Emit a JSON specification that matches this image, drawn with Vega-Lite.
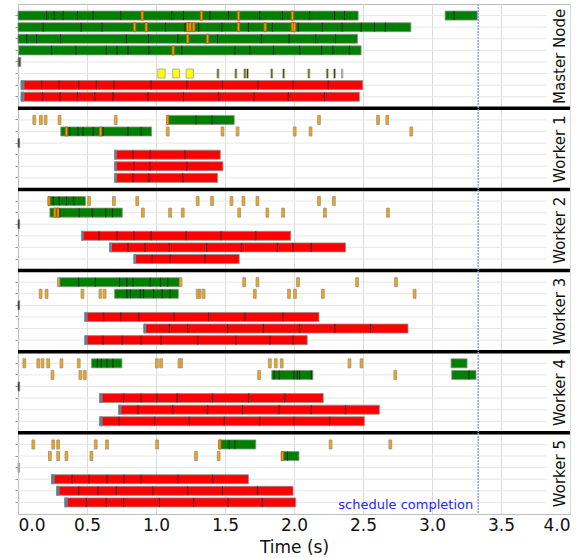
{
  "$schema": "https://vega.github.io/schema/vega-lite/v6.json",
  "width": 552,
  "height": 510,
  "autosize": {"type": "none"},
  "padding": {"left": 18, "top": 4, "right": 9, "bottom": 44},
  "config": {"font": "DejaVu Sans", "view": {"stroke": "#bdbdbd", "strokeWidth": 1}},
  "datasets": {
    "lanes": [
      {"lane":1},{"lane":2},{"lane":3},{"lane":4},{"lane":5},{"lane":6},{"lane":7},{"lane":8},
      {"lane":10},{"lane":11},{"lane":12},{"lane":13},{"lane":14},{"lane":15},
      {"lane":17},{"lane":18},{"lane":19},{"lane":20},{"lane":21},{"lane":22},
      {"lane":24},{"lane":25},{"lane":26},{"lane":27},{"lane":28},{"lane":29},
      {"lane":31},{"lane":32},{"lane":33},{"lane":34},{"lane":35},{"lane":36},
      {"lane":38},{"lane":39},{"lane":40},{"lane":41},{"lane":42},{"lane":43}
    ],
    "seps": [{"lane":9},{"lane":16},{"lane":23},{"lane":30},{"lane":37}],
    "groups": [
      {"group":"Master Node","lane":4},
      {"group":"Worker 1","lane":12},
      {"group":"Worker 2","lane":19},
      {"group":"Worker 3","lane":26},
      {"group":"Worker 4","lane":33},
      {"group":"Worker 5","lane":40}
    ],
    "bars": [
      {"lane":1,"start":0,"end":2.465,"kind":"map"},
      {"lane":1,"start":3.095,"end":3.328,"kind":"map"},
      {"lane":1,"start":0.892,"end":0.908,"kind":"io_in"},
      {"lane":1,"start":1.321,"end":1.337,"kind":"io_in"},
      {"lane":1,"start":1.590,"end":1.606,"kind":"io_in"},
      {"lane":1,"start":1.980,"end":1.996,"kind":"io_in"},
      {"lane":2,"start":0,"end":2.847,"kind":"map"},
      {"lane":2,"start":0.837,"end":0.853,"kind":"io_in"},
      {"lane":2,"start":0.921,"end":0.937,"kind":"io_in"},
      {"lane":2,"start":1.222,"end":1.238,"kind":"io_in"},
      {"lane":2,"start":1.239,"end":1.255,"kind":"io_in"},
      {"lane":2,"start":1.265,"end":1.281,"kind":"io_in"},
      {"lane":2,"start":1.590,"end":1.606,"kind":"io_in"},
      {"lane":2,"start":1.783,"end":1.799,"kind":"io_in"},
      {"lane":2,"start":1.980,"end":1.996,"kind":"io_in"},
      {"lane":2,"start":1.996,"end":2.012,"kind":"io_in"},
      {"lane":3,"start":0,"end":2.460,"kind":"map"},
      {"lane":3,"start":1.222,"end":1.238,"kind":"io_in"},
      {"lane":3,"start":1.366,"end":1.382,"kind":"io_in"},
      {"lane":4,"start":0.005,"end":2.486,"kind":"map"},
      {"lane":4,"start":1.116,"end":1.132,"kind":"io_in"},
      {"lane":5,"start":0,"end":0.02,"kind":"misc"},
      {"lane":6,"start":1.013,"end":1.066,"kind":"sched"},
      {"lane":6,"start":1.121,"end":1.170,"kind":"sched"},
      {"lane":6,"start":1.218,"end":1.271,"kind":"sched"},
      {"lane":6,"start":1.442,"end":1.456,"kind":"sched"},
      {"lane":6,"start":1.572,"end":1.586,"kind":"sched"},
      {"lane":6,"start":1.637,"end":1.651,"kind":"sched"},
      {"lane":6,"start":1.656,"end":1.670,"kind":"sched"},
      {"lane":6,"start":1.832,"end":1.846,"kind":"sched"},
      {"lane":6,"start":1.918,"end":1.932,"kind":"sched"},
      {"lane":6,"start":2.101,"end":2.115,"kind":"sched"},
      {"lane":6,"start":2.234,"end":2.248,"kind":"sched"},
      {"lane":6,"start":2.287,"end":2.301,"kind":"sched"},
      {"lane":6,"start":2.344,"end":2.354,"kind":"light"},
      {"lane":7,"start":0.022,"end":2.498,"kind":"reduce"},
      {"lane":7,"start":0.022,"end":0.043,"kind":"setup"},
      {"lane":8,"start":0.022,"end":2.474,"kind":"reduce"},
      {"lane":8,"start":0.022,"end":0.043,"kind":"setup"},

      {"lane":10,"start":0.108,"end":0.128,"kind":"io"},
      {"lane":10,"start":0.156,"end":0.176,"kind":"io"},
      {"lane":10,"start":0.190,"end":0.210,"kind":"io"},
      {"lane":10,"start":0.291,"end":0.311,"kind":"io"},
      {"lane":10,"start":0.698,"end":0.718,"kind":"io"},
      {"lane":10,"start":1.081,"end":1.567,"kind":"map"},
      {"lane":10,"start":1.077,"end":1.093,"kind":"io_in"},
      {"lane":10,"start":2.171,"end":2.191,"kind":"io"},
      {"lane":10,"start":2.599,"end":2.619,"kind":"io"},
      {"lane":10,"start":2.666,"end":2.686,"kind":"io"},
      {"lane":11,"start":0.310,"end":0.968,"kind":"map"},
      {"lane":11,"start":0.343,"end":0.359,"kind":"io_in"},
      {"lane":11,"start":0.591,"end":0.607,"kind":"io_in"},
      {"lane":11,"start":1.075,"end":1.095,"kind":"io"},
      {"lane":11,"start":1.472,"end":1.492,"kind":"io"},
      {"lane":11,"start":1.581,"end":1.601,"kind":"io"},
      {"lane":11,"start":1.995,"end":2.015,"kind":"io"},
      {"lane":11,"start":2.110,"end":2.130,"kind":"io"},
      {"lane":11,"start":2.840,"end":2.860,"kind":"io"},
      {"lane":12,"start":0,"end":0.012,"kind":"idle"},
      {"lane":13,"start":0.700,"end":1.466,"kind":"reduce"},
      {"lane":13,"start":0.700,"end":0.712,"kind":"setup"},
      {"lane":14,"start":0.700,"end":1.485,"kind":"reduce"},
      {"lane":14,"start":0.700,"end":0.712,"kind":"setup"},
      {"lane":15,"start":0.700,"end":1.446,"kind":"reduce"},
      {"lane":15,"start":0.700,"end":0.712,"kind":"setup"},

      {"lane":17,"start":0.219,"end":0.489,"kind":"map"},
      {"lane":17,"start":0.217,"end":0.233,"kind":"io_in"},
      {"lane":17,"start":0.505,"end":0.525,"kind":"io"},
      {"lane":17,"start":0.685,"end":0.705,"kind":"io"},
      {"lane":17,"start":0.854,"end":0.874,"kind":"io"},
      {"lane":17,"start":1.292,"end":1.312,"kind":"io"},
      {"lane":17,"start":1.396,"end":1.416,"kind":"io"},
      {"lane":17,"start":1.537,"end":1.557,"kind":"io"},
      {"lane":17,"start":1.624,"end":1.644,"kind":"io"},
      {"lane":17,"start":1.725,"end":1.745,"kind":"io"},
      {"lane":17,"start":2.171,"end":2.191,"kind":"io"},
      {"lane":17,"start":2.279,"end":2.299,"kind":"io"},
      {"lane":18,"start":0.231,"end":0.756,"kind":"map"},
      {"lane":18,"start":0.259,"end":0.275,"kind":"io_in"},
      {"lane":18,"start":0.283,"end":0.299,"kind":"io_in"},
      {"lane":18,"start":0.895,"end":0.915,"kind":"io"},
      {"lane":18,"start":1.092,"end":1.112,"kind":"io"},
      {"lane":18,"start":1.184,"end":1.204,"kind":"io"},
      {"lane":18,"start":1.593,"end":1.613,"kind":"io"},
      {"lane":18,"start":1.797,"end":1.817,"kind":"io"},
      {"lane":18,"start":1.911,"end":1.931,"kind":"io"},
      {"lane":18,"start":2.214,"end":2.234,"kind":"io"},
      {"lane":18,"start":2.671,"end":2.691,"kind":"io"},
      {"lane":19,"start":0,"end":0.012,"kind":"idle"},
      {"lane":20,"start":0.460,"end":1.976,"kind":"reduce"},
      {"lane":20,"start":0.460,"end":0.472,"kind":"setup"},
      {"lane":21,"start":0.664,"end":2.373,"kind":"reduce"},
      {"lane":21,"start":0.664,"end":0.678,"kind":"setup"},
      {"lane":22,"start":0.840,"end":1.603,"kind":"reduce"},
      {"lane":22,"start":0.840,"end":0.852,"kind":"setup"},

      {"lane":24,"start":0.286,"end":0.303,"kind":"io"},
      {"lane":24,"start":0.303,"end":1.170,"kind":"map"},
      {"lane":24,"start":1.170,"end":1.188,"kind":"io"},
      {"lane":24,"start":1.629,"end":1.649,"kind":"io"},
      {"lane":24,"start":1.725,"end":1.745,"kind":"io"},
      {"lane":24,"start":2.019,"end":2.039,"kind":"io"},
      {"lane":24,"start":2.447,"end":2.467,"kind":"io"},
      {"lane":24,"start":2.729,"end":2.749,"kind":"io"},
      {"lane":25,"start":0.154,"end":0.174,"kind":"io"},
      {"lane":25,"start":0.197,"end":0.217,"kind":"io"},
      {"lane":25,"start":0.457,"end":0.477,"kind":"io"},
      {"lane":25,"start":0.587,"end":0.607,"kind":"io"},
      {"lane":25,"start":0.618,"end":0.638,"kind":"io"},
      {"lane":25,"start":0.700,"end":1.162,"kind":"map"},
      {"lane":25,"start":1.292,"end":1.312,"kind":"io"},
      {"lane":25,"start":1.312,"end":1.326,"kind":"io"},
      {"lane":25,"start":1.335,"end":1.355,"kind":"io"},
      {"lane":25,"start":1.706,"end":1.726,"kind":"io"},
      {"lane":25,"start":1.954,"end":1.974,"kind":"io"},
      {"lane":25,"start":1.997,"end":2.017,"kind":"io"},
      {"lane":25,"start":2.199,"end":2.219,"kind":"io"},
      {"lane":25,"start":2.864,"end":2.884,"kind":"io"},
      {"lane":26,"start":0,"end":0.012,"kind":"idle"},
      {"lane":27,"start":0.484,"end":2.181,"kind":"reduce"},
      {"lane":27,"start":0.484,"end":0.500,"kind":"setup"},
      {"lane":28,"start":0.912,"end":2.826,"kind":"reduce"},
      {"lane":28,"start":0.912,"end":0.926,"kind":"setup"},
      {"lane":29,"start":0.484,"end":2.096,"kind":"reduce"},
      {"lane":29,"start":0.484,"end":0.500,"kind":"setup"},

      {"lane":31,"start":0.036,"end":0.056,"kind":"io"},
      {"lane":31,"start":0.137,"end":0.157,"kind":"io"},
      {"lane":31,"start":0.168,"end":0.188,"kind":"io"},
      {"lane":31,"start":0.209,"end":0.229,"kind":"io"},
      {"lane":31,"start":0.305,"end":0.325,"kind":"io"},
      {"lane":31,"start":0.430,"end":0.450,"kind":"io"},
      {"lane":31,"start":0.532,"end":0.753,"kind":"map"},
      {"lane":31,"start":0.996,"end":1.016,"kind":"io"},
      {"lane":31,"start":1.027,"end":1.047,"kind":"io"},
      {"lane":31,"start":1.160,"end":1.180,"kind":"io"},
      {"lane":31,"start":1.176,"end":1.192,"kind":"io"},
      {"lane":31,"start":1.815,"end":1.835,"kind":"io"},
      {"lane":31,"start":1.858,"end":1.878,"kind":"io"},
      {"lane":31,"start":1.901,"end":1.921,"kind":"io"},
      {"lane":31,"start":2.392,"end":2.412,"kind":"io"},
      {"lane":31,"start":2.479,"end":2.499,"kind":"io"},
      {"lane":31,"start":3.138,"end":3.254,"kind":"map"},
      {"lane":32,"start":0.240,"end":0.260,"kind":"io"},
      {"lane":32,"start":0.442,"end":0.462,"kind":"io"},
      {"lane":32,"start":0.474,"end":0.494,"kind":"io"},
      {"lane":32,"start":1.737,"end":1.757,"kind":"io"},
      {"lane":32,"start":1.839,"end":2.137,"kind":"map"},
      {"lane":32,"start":2.724,"end":2.744,"kind":"io"},
      {"lane":32,"start":3.143,"end":3.319,"kind":"map"},
      {"lane":33,"start":0,"end":0.012,"kind":"idle"},
      {"lane":34,"start":0.592,"end":2.212,"kind":"reduce"},
      {"lane":34,"start":0.592,"end":0.609,"kind":"setup"},
      {"lane":35,"start":0.729,"end":2.619,"kind":"reduce"},
      {"lane":35,"start":0.729,"end":0.746,"kind":"setup"},
      {"lane":36,"start":0.592,"end":2.510,"kind":"reduce"},
      {"lane":36,"start":0.592,"end":0.609,"kind":"setup"},

      {"lane":38,"start":0.101,"end":0.121,"kind":"io"},
      {"lane":38,"start":0.245,"end":0.265,"kind":"io"},
      {"lane":38,"start":0.281,"end":0.301,"kind":"io"},
      {"lane":38,"start":0.553,"end":0.573,"kind":"io"},
      {"lane":38,"start":0.635,"end":0.655,"kind":"io"},
      {"lane":38,"start":0.998,"end":1.018,"kind":"io"},
      {"lane":38,"start":1.455,"end":1.723,"kind":"map"},
      {"lane":38,"start":1.455,"end":1.471,"kind":"io_in"},
      {"lane":38,"start":2.255,"end":2.275,"kind":"io"},
      {"lane":38,"start":2.688,"end":2.708,"kind":"io"},
      {"lane":39,"start":0.221,"end":0.241,"kind":"io"},
      {"lane":39,"start":0.281,"end":0.301,"kind":"io"},
      {"lane":39,"start":0.341,"end":0.361,"kind":"io"},
      {"lane":39,"start":0.522,"end":0.542,"kind":"io"},
      {"lane":39,"start":1.280,"end":1.300,"kind":"io"},
      {"lane":39,"start":1.444,"end":1.464,"kind":"io"},
      {"lane":39,"start":1.908,"end":2.036,"kind":"map"},
      {"lane":39,"start":1.908,"end":1.924,"kind":"io_in"},
      {"lane":40,"start":0,"end":0.012,"kind":"light"},
      {"lane":41,"start":0.243,"end":1.670,"kind":"reduce"},
      {"lane":41,"start":0.243,"end":0.262,"kind":"setup"},
      {"lane":42,"start":0.279,"end":1.993,"kind":"reduce"},
      {"lane":42,"start":0.279,"end":0.297,"kind":"setup"},
      {"lane":43,"start":0.339,"end":2.012,"kind":"reduce"},
      {"lane":43,"start":0.339,"end":0.357,"kind":"setup"}
    ],
    "divs": [
      {"lane":1,"t":0.207},{"lane":1,"t":0.262},{"lane":1,"t":0.327},{"lane":1,"t":0.431},{"lane":1,"t":0.544},{"lane":1,"t":0.744},{"lane":1,"t":1.114},{"lane":1,"t":1.199},{"lane":1,"t":1.391},{"lane":1,"t":1.526},{"lane":1,"t":1.752},{"lane":1,"t":1.916},{"lane":1,"t":2.113},{"lane":1,"t":2.294},{"lane":1,"t":2.366},{"lane":1,"t":3.16},
      {"lane":2,"t":0.183},{"lane":2,"t":0.457},{"lane":2,"t":0.609},{"lane":2,"t":1.069},{"lane":2,"t":1.211},{"lane":2,"t":1.309},{"lane":2,"t":1.478},{"lane":2,"t":1.670},{"lane":2,"t":1.843},{"lane":2,"t":2.031},{"lane":2,"t":2.205},{"lane":2,"t":2.349},{"lane":2,"t":2.486},{"lane":2,"t":2.583},{"lane":2,"t":2.662},
      {"lane":3,"t":0.063},{"lane":3,"t":0.135},{"lane":3,"t":0.308},{"lane":3,"t":0.785},{"lane":3,"t":0.946},{"lane":3,"t":1.158},{"lane":3,"t":1.446},{"lane":3,"t":1.764},{"lane":3,"t":1.964},{"lane":3,"t":2.157},{"lane":3,"t":2.301},
      {"lane":4,"t":0.243},{"lane":4,"t":0.419},{"lane":4,"t":0.640},{"lane":4,"t":0.717},{"lane":4,"t":0.797},{"lane":4,"t":0.948},{"lane":4,"t":1.187},{"lane":4,"t":1.572},{"lane":4,"t":1.680},{"lane":4,"t":1.851},{"lane":4,"t":2.041},{"lane":4,"t":2.200},{"lane":4,"t":2.282},{"lane":4,"t":2.402},
      {"lane":6,"t":1.449},{"lane":6,"t":1.579},{"lane":6,"t":1.644},{"lane":6,"t":1.663},{"lane":6,"t":1.839},{"lane":6,"t":1.925},{"lane":6,"t":2.108},{"lane":6,"t":2.241},{"lane":6,"t":2.294},
      {"lane":7,"t":0.171},{"lane":7,"t":0.298},{"lane":7,"t":0.440},{"lane":7,"t":0.568},{"lane":7,"t":0.695},{"lane":7,"t":0.965},{"lane":7,"t":1.223},{"lane":7,"t":1.482},{"lane":7,"t":1.738},{"lane":7,"t":1.993},{"lane":7,"t":2.248},
      {"lane":8,"t":0.178},{"lane":8,"t":0.306},{"lane":8,"t":0.431},{"lane":8,"t":0.556},{"lane":8,"t":0.688},{"lane":8,"t":0.941},{"lane":8,"t":1.199},{"lane":8,"t":1.454},{"lane":8,"t":1.711},{"lane":8,"t":1.959},{"lane":8,"t":2.221},
      {"lane":10,"t":1.290},{"lane":10,"t":1.406},
      {"lane":11,"t":0.375},{"lane":11,"t":0.435},{"lane":11,"t":0.472},{"lane":11,"t":0.544},{"lane":11,"t":0.616},{"lane":11,"t":0.797},{"lane":11,"t":0.893},
      {"lane":13,"t":0.833},{"lane":13,"t":0.958},{"lane":13,"t":1.211},
      {"lane":14,"t":0.840},{"lane":14,"t":0.958},{"lane":14,"t":1.223},
      {"lane":15,"t":0.833},{"lane":15,"t":0.948},{"lane":15,"t":1.194},
      {"lane":17,"t":0.255},{"lane":17,"t":0.298},{"lane":17,"t":0.351},{"lane":17,"t":0.404},
      {"lane":18,"t":0.303},{"lane":18,"t":0.443},{"lane":18,"t":0.539},{"lane":18,"t":0.635},{"lane":18,"t":0.684},
      {"lane":20,"t":0.587},{"lane":20,"t":0.717},{"lane":20,"t":0.840},{"lane":20,"t":0.965},{"lane":20,"t":1.218},{"lane":20,"t":1.471},{"lane":20,"t":1.723},
      {"lane":21,"t":0.797},{"lane":21,"t":0.922},{"lane":21,"t":1.097},{"lane":21,"t":1.367},{"lane":21,"t":1.620},{"lane":21,"t":1.880},{"lane":21,"t":1.993},{"lane":21,"t":2.125},
      {"lane":22,"t":0.972},{"lane":22,"t":1.102},{"lane":22,"t":1.355},
      {"lane":24,"t":0.440},{"lane":24,"t":0.561},{"lane":24,"t":0.736},{"lane":24,"t":0.789},{"lane":24,"t":0.833},{"lane":24,"t":0.958},{"lane":24,"t":1.032},{"lane":24,"t":1.085},
      {"lane":25,"t":0.789},{"lane":25,"t":0.814},{"lane":25,"t":0.886},{"lane":25,"t":0.910},{"lane":25,"t":0.982},{"lane":25,"t":1.045},{"lane":25,"t":1.102},
      {"lane":27,"t":0.621},{"lane":27,"t":0.744},{"lane":27,"t":0.876},{"lane":27,"t":1.129},{"lane":27,"t":1.381},{"lane":27,"t":1.644},{"lane":27,"t":1.921},
      {"lane":28,"t":1.097},{"lane":28,"t":1.230},{"lane":28,"t":1.519},{"lane":28,"t":1.778},{"lane":28,"t":2.041},{"lane":28,"t":2.296},{"lane":28,"t":2.554},
      {"lane":29,"t":0.616},{"lane":29,"t":0.756},{"lane":29,"t":0.893},{"lane":29,"t":1.037},{"lane":29,"t":1.302},{"lane":29,"t":1.579},{"lane":29,"t":1.825},{"lane":29,"t":1.993},
      {"lane":31,"t":0.575},{"lane":31,"t":0.604},{"lane":31,"t":0.645},{"lane":31,"t":0.688},
      {"lane":32,"t":1.856},{"lane":32,"t":1.892},{"lane":32,"t":2.000},{"lane":32,"t":2.024},{"lane":32,"t":2.041},{"lane":32,"t":2.125},{"lane":32,"t":3.268},
      {"lane":34,"t":0.765},{"lane":34,"t":0.893},{"lane":34,"t":1.006},{"lane":34,"t":1.153},{"lane":34,"t":1.410},{"lane":34,"t":1.670},{"lane":34,"t":1.933},
      {"lane":35,"t":0.869},{"lane":35,"t":1.121},{"lane":35,"t":1.374},{"lane":35,"t":1.627},{"lane":35,"t":1.892},{"lane":35,"t":2.125},{"lane":35,"t":2.373},
      {"lane":36,"t":0.731},{"lane":36,"t":0.989},{"lane":36,"t":1.242},{"lane":36,"t":1.495},{"lane":36,"t":1.752},{"lane":36,"t":2.000},{"lane":36,"t":2.258},
      {"lane":38,"t":1.531},{"lane":38,"t":1.572},
      {"lane":39,"t":1.952},
      {"lane":41,"t":0.392},{"lane":41,"t":0.515},{"lane":41,"t":0.645},{"lane":41,"t":0.768},{"lane":41,"t":0.893},{"lane":41,"t":1.158},{"lane":41,"t":1.410},
      {"lane":42,"t":0.440},{"lane":42,"t":0.580},{"lane":42,"t":0.712},{"lane":42,"t":0.977},{"lane":42,"t":1.230},{"lane":42,"t":1.482},{"lane":42,"t":1.735},
      {"lane":43,"t":0.496},{"lane":43,"t":0.640},{"lane":43,"t":0.765},{"lane":43,"t":1.025},{"lane":43,"t":1.273},{"lane":43,"t":1.523},{"lane":43,"t":1.771}
    ],
    "marker": [{"label":"schedule completion","t":3.335,"lane":43}]
  },
  "layer": [
    {
      "data": {"name": "lanes"},
      "mark": {"type": "rule", "color": "#e6e6e6", "strokeWidth": 1},
      "encoding": {
        "y": {
          "field": "lane", "type": "ordinal",
          "scale": {"type": "band", "domain": [1,2,3,4,5,6,7,8,9,10,11,12,13,14,15,16,17,18,19,20,21,22,23,24,25,26,27,28,29,30,31,32,33,34,35,36,37,38,39,40,41,42,43], "paddingInner": 0.22, "paddingOuter": 0.61},
          "axis": {"values": [1,2,3,4,5,6,7,8,10,11,12,13,14,15,17,18,19,20,21,22,24,25,26,27,28,29,31,32,33,34,35,36,38,39,40,41,42,43], "labels": false, "title": null, "ticks": true, "tickSize": 3, "tickColor": "#999999", "domainColor": "#bdbdbd", "grid": false}
        },
        "x": {
          "datum": 0, "type": "quantitative",
          "scale": {"domain": [0, 4], "nice": false, "zero": false},
          "axis": {"values": [0,0.5,1,1.5,2,2.5,3,3.5,4], "format": ".1f", "labelFlush": true, "labelFontSize": 17, "labelColor": "#111111", "labelPadding": 3, "ticks": false, "domainColor": "#bdbdbd", "grid": true, "gridColor": "#dcdcdc", "title": "Time (s)", "titleFontSize": 17, "titleFontWeight": "normal", "titleColor": "#111111", "titlePadding": 6}
        },
        "x2": {"datum": 3.83}
      }
    },
    {
      "data": {"name": "bars"},
      "mark": {"type": "rect", "strokeWidth": 0.8},
      "encoding": {
        "y": {"field": "lane", "type": "ordinal"},
        "x": {"field": "start", "type": "quantitative"},
        "x2": {"field": "end"},
        "color": {
          "field": "kind", "type": "nominal", "legend": null,
          "scale": {"domain": ["map","reduce","io","io_in","sched","setup","idle","misc","light"], "range": ["#008000","#ff0000","#ffa500","#ff9900","#ffff00","#56778f","#111111","#555555","#bbbbbb"]}
        },
        "stroke": {
          "field": "kind", "type": "nominal", "legend": null,
          "scale": {"domain": ["map","reduce","io","io_in","sched","setup","idle","misc","light"], "range": ["#8f8f8f","#8f8f8f","#8f8f8f","#b36200","#a0a0a0","#7f93a3","#888888","#888888","#999999"]}
        }
      }
    },
    {
      "data": {"name": "divs"},
      "mark": {"type": "tick", "color": "#1a1a1a", "opacity": 0.85, "size": 9, "thickness": 1},
      "encoding": {
        "y": {"field": "lane", "type": "ordinal"},
        "x": {"field": "t", "type": "quantitative"}
      }
    },
    {
      "data": {"name": "seps"},
      "mark": {"type": "rule", "color": "#000000", "strokeWidth": 3.5},
      "encoding": {
        "y": {"field": "lane", "type": "ordinal"}
      }
    },
    {
      "data": {"name": "marker"},
      "mark": {"type": "rule", "color": "#9a9aff", "strokeWidth": 1.5, "strokeDash": [2, 1]},
      "encoding": {
        "x": {"field": "t", "type": "quantitative"}
      }
    },
    {
      "data": {"name": "marker"},
      "mark": {"type": "text", "color": "#2626f0", "fontSize": 13, "align": "right", "baseline": "middle", "dx": -5, "dy": 3},
      "encoding": {
        "x": {"field": "t", "type": "quantitative"},
        "y": {"field": "lane", "type": "ordinal"},
        "text": {"field": "label"}
      }
    },
    {
      "data": {"name": "groups"},
      "mark": {"type": "text", "color": "#111111", "fontSize": 15, "angle": 270, "align": "center", "baseline": "middle", "dx": -6},
      "encoding": {
        "x": {"datum": 3.93, "type": "quantitative"},
        "y": {"field": "lane", "type": "ordinal"},
        "text": {"field": "group"}
      }
    }
  ]
}
